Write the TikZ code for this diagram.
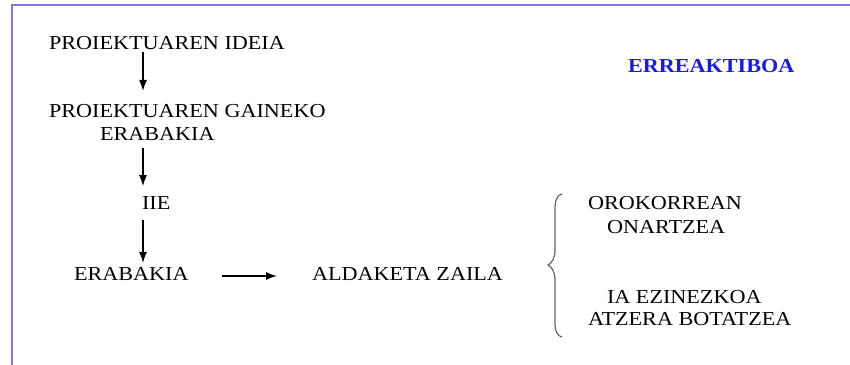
\documentclass[tikz,border=0pt]{standalone}
\usepackage{fontspec}
\setmainfont{Liberation Serif}[FakeStretch=1.12]
\usetikzlibrary{arrows.meta,calc}
\definecolor{framec}{RGB}{122,122,214}
\definecolor{titleblue}{RGB}{28,28,214}
\definecolor{bracec}{RGB}{100,100,100}
\begin{document}
\begin{tikzpicture}[x=1pt,y=-1pt,
  txt/.style={inner sep=0pt,outer sep=0pt,anchor=base west,font=\fontsize{19.8}{23}\selectfont},
  arr/.style={line width=1.3pt,-{Latex[length=11pt,width=8pt]}}]
\useasboundingbox (0,0) rectangle (850,364);
\fill[white] (0,0) rectangle (850,364);
\draw[framec,line width=2pt] (11.5,370) -- (11.5,5) -- (860,5);
\coordinate (ax) at (143,0);
\node[txt] (idea) at (49,49) {PROIEKTUAREN IDEIA};
\node[txt] (gaineko) at (49,117) {PROIEKTUAREN GAINEKO};
\node[txt] (erab1) at (100,140) {ERABAKIA};
\node[txt] (iie) at (142,209) {IIE};
\node[txt] (erab2) at (74,280) {ERABAKIA};
\node[txt] (zaila) at (312,280) {ALDAKETA ZAILA};
\node[txt] (orok) at (588,209) {OROKORREAN};
\node[txt] (onar) at (607,233) {ONARTZEA};
\node[txt] (ia) at (607,303) {IA EZINEZKOA};
\node[txt] (atz) at (588,325) {ATZERA BOTATZEA};
\node[txt,font=\fontsize{19.8}{23}\bfseries,text=titleblue] (title) at (628,72) {ERREAKTIBOA};
\draw[arr] ($(idea.south -| ax)+(0,3)$) -- ($(gaineko.north -| ax)+(0,-13)$);
\draw[arr] ($(erab1.south -| ax)+(0,8)$) -- ($(iie.north -| ax)+(0,-10)$);
\draw[arr] ($(iie.south -| ax)+(0,11)$) -- ($(erab2.north -| ax)+(0,-4)$);
\draw[arr] ($(erab2.east)+(33,2.5)$) -- ($(zaila.west |- erab2.east)+(-35,2.5)$);
\coordinate (bt) at (562,194);
\coordinate (bm) at (548,265);
\coordinate (bb) at (562,337);
\draw[bracec,line width=1.2pt] (bt) .. controls (557,195) and (555,200) .. (555,210)
  -- (555,250) .. controls (555,258) and (552,263) .. (bm)
  .. controls (552,267) and (555,272) .. (555,280)
  -- (555,322) .. controls (555,331) and (557,336) .. (bb);
\end{tikzpicture}
\end{document}
